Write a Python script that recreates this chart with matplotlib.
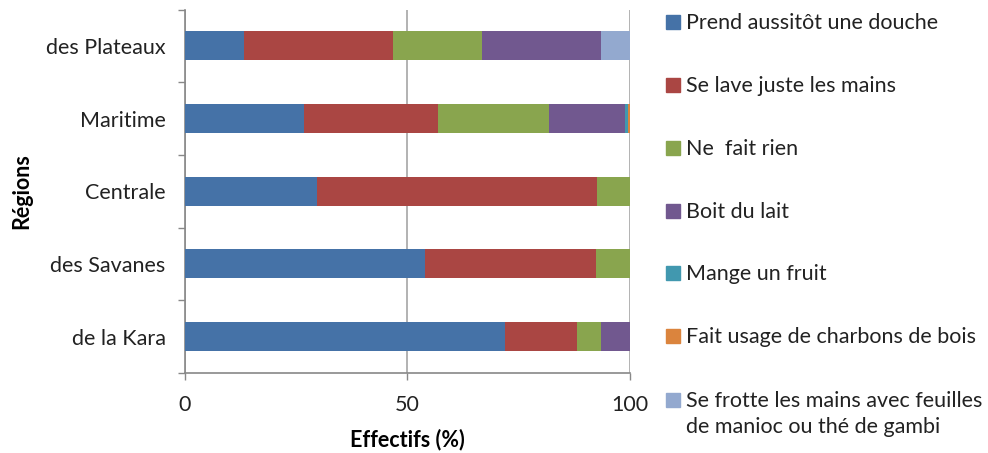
import matplotlib
matplotlib.use("Agg")
import matplotlib.pyplot as plt
from matplotlib.patches import Rectangle
import numpy as np

plt.rcParams['font.family'] = ['Lato', 'DejaVu Sans']

regions = ["de la Kara", "des Savanes", "Centrale", "Maritime", "des Plateaux"]
categories = [
    "Prend aussitôt une douche",
    "Se lave juste les mains",
    "Ne  fait rien",
    "Boit du lait",
    "Mange un fruit",
    "Fait usage de charbons de bois",
    "Se frotte les mains avec feuilles\nde manioc ou thé de gambi",
]
# percentages per region, in the order of `regions`
douche   = [72.0, 53.9, 29.7, 26.8, 13.3]
mains    = [16.1, 38.5, 63.0, 30.1, 33.4]
rien     = [5.4, 7.6, 7.3, 25.0, 20.0]
lait     = [6.5, 0.0, 0.0, 17.0, 26.8]
fruit    = [0.0, 0.0, 0.0, 0.6, 0.0]
charbon  = [0.0, 0.0, 0.0, 0.5, 0.0]
feuilles = [0.0, 0.0, 0.0, 0.0, 6.5]
series = [douche, mains, rien, lait, fruit, charbon, feuilles]
colors = ["#4572A7", "#AA4643", "#89A54E", "#71588F", "#4198AF", "#DB843D", "#93A9CF"]
xticks = [0, 50, 100]

FS = 15.5
fig = plt.figure(figsize=(9.88, 4.53), dpi=100)
ax = fig.add_axes([0.1872, 0.1766, 0.4504, 0.8024])

y = np.arange(len(regions))
left = np.zeros(len(regions))
for vals, col in zip(series, colors):
    vals = np.array(vals)
    ax.barh(y, vals, left=left, height=0.4, color=col, edgecolor='none', zorder=3)
    left += vals

ax.set_xlim(0, 100)
ax.set_ylim(-0.5, len(regions) - 0.5)
ax.set_xticks(xticks)
ax.set_xticklabels([str(t) for t in xticks], fontsize=FS, color="#222222")
ax.set_yticks(y)
ax.set_yticklabels(regions, fontsize=FS, color="#222222")
ax.tick_params(axis='y', length=0, pad=14)
ax.set_yticks(np.arange(-0.5, len(regions)), minor=True)
ax.tick_params(axis='y', which='minor', length=5, color="#888888", width=1)
ax.tick_params(axis='x', length=5, color="#888888", width=1, pad=11)

ax.grid(axis='x', color="#A6A6A6", linewidth=1.2, zorder=0)
for s in ['top', 'right']:
    ax.spines[s].set_visible(False)
for s in ['left', 'bottom']:
    ax.spines[s].set_color("#888888")
    ax.spines[s].set_linewidth(1.2)

ax.set_xlabel("Effectifs (%)", fontsize=FS, fontweight='bold', labelpad=10)
ax.set_ylabel("Régions", fontsize=FS, fontweight='bold', labelpad=10)

# legend drawn as swatches with labels at the right
ys = [22, 85, 148, 211, 273, 336, 400]
for lab, col, yy in zip(categories, colors, ys):
    fy = 1 - yy / 453
    fig.patches.append(Rectangle((666 / 988, fy - 7 / 453), 14 / 988, 14 / 453,
                                 transform=fig.transFigure, color=col))
    fig.text(686 / 988, fy + 9 / 453, lab, fontsize=FS, va='top', ha='left',
             color="#222222", linespacing=1.4)

fig.savefig("out.png", dpi=100)
